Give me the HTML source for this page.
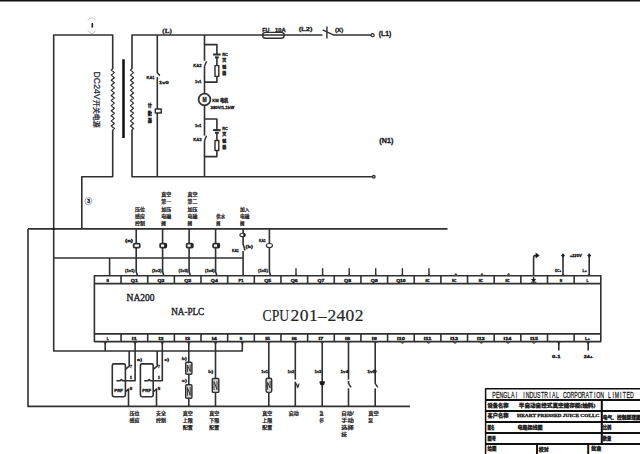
<!DOCTYPE html>
<html lang="zh"><head><meta charset="utf-8"><title>PLC wiring diagram</title>
<style>
html,body{margin:0;padding:0;background:#fff;}
body{width:640px;height:454px;overflow:hidden;}
svg{display:block;}
polyline,path,rect{stroke-linejoin:round;}
text{fill:#222;}
.s{font-family:"Liberation Sans","Noto Sans CJK SC",sans-serif;}
.r{font-family:"Liberation Serif","Noto Serif CJK SC",serif;}
.m{font-family:"DejaVu Sans Mono","Liberation Mono","Noto Sans CJK SC",monospace;}
.b{font-weight:bold;stroke:#1a1a1a;stroke-width:0.3px;}
.c{font-weight:500;stroke:#222;stroke-width:0.24px;}
</style></head><body>
<svg width="640" height="454" viewBox="0 0 640 454">
<rect x="0" y="0" width="640" height="454" fill="#fff"/>
<rect x="0" y="0" width="640" height="1.5" fill="#111"/>
<polyline points="112.7,69 112.7,35 53.7,35 53.7,351 242.3,351 242.3,342" fill="none" stroke="#303030" stroke-width="1.6" />
<polyline points="112.7,129.8 112.7,176.8 81.8,176.8 81.8,228.9" fill="none" stroke="#303030" stroke-width="1.6" />
<polyline points="112.8,68.8 111.2,70.07 114.4,72.61 111.2,75.15 114.4,77.7 111.2,80.24 114.4,82.78 111.2,85.32 114.4,87.86 111.2,90.4 114.4,92.95 111.2,95.49 114.4,98.03 111.2,100.57 114.4,103.11 111.2,105.65 114.4,108.2 111.2,110.74 114.4,113.28 111.2,115.82 114.4,118.36 111.2,120.9 114.4,123.45 111.2,125.99 114.4,128.53 112.8,129.8" fill="none" stroke="#303030" stroke-width="1.2" />
<polyline points="132,68.8 130.4,70.07 133.6,72.61 130.4,75.15 133.6,77.7 130.4,80.24 133.6,82.78 130.4,85.32 133.6,87.86 130.4,90.4 133.6,92.95 130.4,95.49 133.6,98.03 130.4,100.57 133.6,103.11 130.4,105.65 133.6,108.2 130.4,110.74 133.6,113.28 130.4,115.82 133.6,118.36 130.4,120.9 133.6,123.45 130.4,125.99 133.6,128.53 132,129.8" fill="none" stroke="#303030" stroke-width="1.2" />
<line x1="123.5" y1="59.3" x2="123.5" y2="138" stroke="#111" stroke-width="2.56" />
<polyline points="132,69 132,35 372,35" fill="none" stroke="#303030" stroke-width="1.6" />
<polyline points="132,129.8 132,176.8 373,176.8" fill="none" stroke="#303030" stroke-width="1.6" />
<circle cx="372.6" cy="35.2" r="1.5" fill="#fff" stroke="#303030" stroke-width="1.28"/>
<circle cx="373.8" cy="176.8" r="1.3" fill="#fff" stroke="#303030" stroke-width="1.28"/>
<g transform="translate(94.3,71.6) rotate(90)">
<text class="s" x="0" y="0" font-size="8.7" fill="#2a2f45" textLength="28" lengthAdjust="spacingAndGlyphs" stroke="#2a2f45" stroke-width="0.25">DC24V</text>
<text class="s" x="28.4" y="0" font-size="7.2" fill="#2a2f45" textLength="27.6" lengthAdjust="spacingAndGlyphs" stroke="#2a2f45" stroke-width="0.25">开关电源</text>
</g>
<path d="M87.8 20.5 Q91.8 14.5 95.6 20.5 M87.8 30.5 Q91.8 36.5 95.6 30.5" fill="none" stroke="#a9aec2" stroke-width="0.8"/>
<line x1="92.3" y1="23" x2="92.3" y2="27.6" stroke="#222" stroke-width="1.6" />
<text class="r b" x="162.3" y="33.4" font-size="6.5" textLength="9.5" lengthAdjust="spacingAndGlyphs">(L)</text>
<polyline points="157.3,35 157.3,72.8 159.8,75.6" fill="none" stroke="#303030" stroke-width="1.6" />
<line x1="157.3" y1="77" x2="157.3" y2="176.8" stroke="#303030" stroke-width="1.6" />
<rect x="155.3" y="109" width="6" height="4" rx="0" fill="#fff" stroke="#303030" stroke-width="1.44"/>
<text class="s b" x="146.6" y="79.2" font-size="3.7" textLength="8" lengthAdjust="spacingAndGlyphs">KA1</text>
<text class="s b" x="159" y="84.1" font-size="3.7" textLength="9.6" lengthAdjust="spacingAndGlyphs">1v0</text>
<text class="s b" x="147.7" y="107.3" font-size="4.2">计</text>
<text class="s b" x="147.7" y="114.5" font-size="4.2">数</text>
<text class="s b" x="147.7" y="121.7" font-size="4.2">器</text>
<line x1="204.5" y1="35" x2="204.5" y2="60.8" stroke="#303030" stroke-width="1.6" />
<line x1="204.5" y1="66.4" x2="204.5" y2="93.5" stroke="#303030" stroke-width="1.6" />
<line x1="204.5" y1="105.6" x2="204.5" y2="135.6" stroke="#303030" stroke-width="1.6" />
<line x1="204.5" y1="140.6" x2="204.5" y2="176.8" stroke="#303030" stroke-width="1.6" />
<line x1="204.5" y1="66.4" x2="206.5" y2="61.2" stroke="#303030" stroke-width="1.44" />
<line x1="204.5" y1="140.6" x2="206.5" y2="135.8" stroke="#303030" stroke-width="1.44" />
<polyline points="204.5,44.6 216.9,44.6 216.9,54.5" fill="none" stroke="#303030" stroke-width="1.6" />
<line x1="213.1" y1="54.5" x2="220.6" y2="54.5" stroke="#303030" stroke-width="2.08" />
<line x1="215" y1="57.4" x2="218.8" y2="57.4" stroke="#303030" stroke-width="2.08" />
<line x1="216.9" y1="57.4" x2="216.9" y2="65.6" stroke="#303030" stroke-width="1.6" />
<rect x="215.0" y="65.6" width="3.8" height="10.8" rx="0" fill="#fff" stroke="#303030" stroke-width="1.44"/>
<polyline points="216.9,76.4 216.9,82.1 204.5,82.1" fill="none" stroke="#303030" stroke-width="1.6" />
<polyline points="204.5,119 216.9,119 216.9,130.1" fill="none" stroke="#303030" stroke-width="1.6" />
<line x1="213.1" y1="130.1" x2="220.6" y2="130.1" stroke="#303030" stroke-width="2.08" />
<line x1="215" y1="132.8" x2="218.8" y2="132.8" stroke="#303030" stroke-width="2.08" />
<line x1="216.9" y1="132.8" x2="216.9" y2="140.5" stroke="#303030" stroke-width="1.6" />
<rect x="215.0" y="140.5" width="3.8" height="10" rx="0" fill="#fff" stroke="#303030" stroke-width="1.44"/>
<polyline points="216.9,150.5 216.9,156.6 204.5,156.6" fill="none" stroke="#303030" stroke-width="1.6" />
<circle cx="204.5" cy="99.5" r="5.9" fill="#fff" stroke="#303030" stroke-width="1.76"/>
<text class="s b" x="204.5" y="101.8" font-size="6.4" text-anchor="middle" fill="#111" textLength="4.2" lengthAdjust="spacingAndGlyphs">M</text>
<text class="s b" x="212.3" y="101.9" font-size="4.4" textLength="16" lengthAdjust="spacingAndGlyphs">KM 电机</text>
<text class="s b" x="210.6" y="109.2" font-size="3.8" textLength="23.6" lengthAdjust="spacingAndGlyphs">380V/1.1kW</text>
<text class="s b" x="193.3" y="66.9" font-size="3.7" textLength="8.2" lengthAdjust="spacingAndGlyphs">KA2</text>
<text class="s b" x="195" y="82.9" font-size="3.7" textLength="6.5" lengthAdjust="spacingAndGlyphs">1v1</text>
<text class="s b" x="195" y="127" font-size="3.7" textLength="6.5" lengthAdjust="spacingAndGlyphs">1v1</text>
<text class="s b" x="193.3" y="141.3" font-size="3.7" textLength="8.2" lengthAdjust="spacingAndGlyphs">KA3</text>
<text class="s b" x="222.2" y="55.5" font-size="4" fill="#333">RC</text>
<text class="s b" x="222.2" y="129.6" font-size="4" fill="#333">RC</text>
<text class="s b" x="222.2" y="62.1" font-size="4" fill="#333">灭</text>
<text class="s b" x="222.2" y="136.2" font-size="4" fill="#333">灭</text>
<text class="s b" x="222.2" y="68.7" font-size="4" fill="#333">弧</text>
<text class="s b" x="222.2" y="142.79999999999998" font-size="4" fill="#333">弧</text>
<text class="s b" x="222.2" y="75.3" font-size="4" fill="#333">器</text>
<text class="s b" x="222.2" y="149.39999999999998" font-size="4" fill="#333">器</text>
<rect x="262.6" y="32.4" width="21.6" height="5.8" rx="2.9" fill="none" stroke="#303030" stroke-width="1.44"/>
<text class="s b" x="262.2" y="31.6" font-size="5.2" textLength="7.2" lengthAdjust="spacingAndGlyphs">FU</text>
<text class="s b" x="275" y="31.6" font-size="5.2" textLength="10.6" lengthAdjust="spacingAndGlyphs">10A</text>
<text class="s b" x="298.8" y="30.8" font-size="6.2" textLength="13.6" lengthAdjust="spacingAndGlyphs">(L2)</text>
<rect x="322.4" y="33" width="11" height="4" fill="#fff"/>
<line x1="322.6" y1="29.8" x2="333.8" y2="35.2" stroke="#303030" stroke-width="1.44" />
<line x1="326.9" y1="26.6" x2="326.9" y2="38.4" stroke="#303030" stroke-width="1.44" />
<text class="s b" x="335" y="32.4" font-size="5.4" textLength="8.2" lengthAdjust="spacingAndGlyphs">(X)</text>
<text class="s b" x="378.8" y="36.3" font-size="6.4" textLength="12.4" lengthAdjust="spacingAndGlyphs">(L1)</text>
<text class="s b" x="379.3" y="143" font-size="6.4" textLength="14" lengthAdjust="spacingAndGlyphs">(N1)</text>
<line x1="28" y1="228.9" x2="447.5" y2="228.9" stroke="#303030" stroke-width="1.6" />
<polyline points="28,228.9 28,406.4 410,406.4" fill="none" stroke="#303030" stroke-width="1.6" />
<circle cx="53.7" cy="228.9" r="1.1" fill="#111" stroke="#303030" stroke-width="0.8"/>
<line x1="53.7" y1="258" x2="243.1" y2="258" stroke="#303030" stroke-width="1.6" />
<line x1="109.6" y1="258" x2="109.6" y2="275.8" stroke="#303030" stroke-width="1.6" />
<circle cx="88.4" cy="201.1" r="3.5" fill="none" stroke="#9aa2bd" stroke-width="0.96"/>
<text class="s b" x="88.6" y="203" font-size="5" text-anchor="middle" fill="#2b3050">3</text>
<polyline points="136.2,228.9 136.2,271.5 137.39999999999998,275.8" fill="none" stroke="#303030" stroke-width="1.6" />
<rect x="133.6" y="243.7" width="6.2" height="3.9" rx="1.2" fill="#fff" stroke="#303030" stroke-width="1.76"/>
<polyline points="162.6,228.9 162.6,271.5 163.79999999999998,275.8" fill="none" stroke="#303030" stroke-width="1.6" />
<rect x="160.1" y="243.7" width="6.2" height="3.9" rx="1" fill="#fff" stroke="#303030" stroke-width="1.76"/>
<rect x="164.1" y="243.7" width="2.2" height="3.9" fill="#222"/>
<polyline points="189.1,228.9 189.1,271.5 190.29999999999998,275.8" fill="none" stroke="#303030" stroke-width="1.6" />
<rect x="186.6" y="243.7" width="6.2" height="3.9" rx="1" fill="#fff" stroke="#303030" stroke-width="1.76"/>
<rect x="190.6" y="243.7" width="2.2" height="3.9" fill="#222"/>
<polyline points="215.6,228.9 215.6,271.5 216.79999999999998,275.8" fill="none" stroke="#303030" stroke-width="1.6" />
<rect x="213.1" y="243.7" width="6.2" height="3.9" rx="1" fill="#fff" stroke="#303030" stroke-width="1.76"/>
<rect x="217.1" y="243.7" width="2.2" height="3.9" fill="#222"/>
<polyline points="243.1,228.9 243.1,244 245.0,250.4" fill="none" stroke="#303030" stroke-width="1.6" />
<line x1="243.1" y1="251" x2="243.1" y2="275.8" stroke="#303030" stroke-width="1.6" />
<ellipse cx="242.6" cy="234.9" rx="2.7" ry="1.7" fill="#fff" stroke="#303030" stroke-width="1.1"/>
<rect x="243.29999999999998" y="233.6" width="1.8" height="2.6" fill="#222"/>
<polyline points="269.4,228.9 269.4,271.5 270.4,275.8" fill="none" stroke="#303030" stroke-width="1.6" />
<ellipse cx="269.4" cy="245.5" rx="3.1" ry="2" fill="#fff" stroke="#303030" stroke-width="1.1"/>
<text class="s c" x="135" y="210.60000000000002" font-size="4.7" fill="#2a2a3a" textLength="10" lengthAdjust="spacingAndGlyphs">压位</text>
<text class="s c" x="135" y="217.95000000000002" font-size="4.7" fill="#2a2a3a" textLength="10" lengthAdjust="spacingAndGlyphs">感应</text>
<text class="s c" x="135" y="225.3" font-size="4.7" fill="#2a2a3a" textLength="10" lengthAdjust="spacingAndGlyphs">控制</text>
<text class="s c" x="161.3" y="195.9" font-size="4.7" fill="#2a2a3a" textLength="10" lengthAdjust="spacingAndGlyphs">真空</text>
<text class="s c" x="161.3" y="203.25" font-size="4.7" fill="#2a2a3a" textLength="10" lengthAdjust="spacingAndGlyphs">第一</text>
<text class="s c" x="161.3" y="210.60000000000002" font-size="4.7" fill="#2a2a3a" textLength="10" lengthAdjust="spacingAndGlyphs">加压</text>
<text class="s c" x="161.3" y="217.95000000000002" font-size="4.7" fill="#2a2a3a" textLength="10" lengthAdjust="spacingAndGlyphs">电磁</text>
<text class="s c" x="161.3" y="225.3" font-size="4.7" fill="#2a2a3a" textLength="4.6" lengthAdjust="spacingAndGlyphs">阀</text>
<text class="s c" x="187.6" y="195.9" font-size="4.7" fill="#2a2a3a" textLength="10" lengthAdjust="spacingAndGlyphs">真空</text>
<text class="s c" x="187.6" y="203.25" font-size="4.7" fill="#2a2a3a" textLength="10" lengthAdjust="spacingAndGlyphs">第二</text>
<text class="s c" x="187.6" y="210.60000000000002" font-size="4.7" fill="#2a2a3a" textLength="10" lengthAdjust="spacingAndGlyphs">加压</text>
<text class="s c" x="187.6" y="217.95000000000002" font-size="4.7" fill="#2a2a3a" textLength="10" lengthAdjust="spacingAndGlyphs">电磁</text>
<text class="s c" x="187.6" y="225.3" font-size="4.7" fill="#2a2a3a" textLength="4.6" lengthAdjust="spacingAndGlyphs">阀</text>
<text class="s c" x="216.3" y="217.95000000000002" font-size="4.7" fill="#2a2a3a" textLength="8.8" lengthAdjust="spacingAndGlyphs">供水</text>
<text class="s c" x="216.3" y="225.3" font-size="4.7" fill="#2a2a3a" textLength="4.0" lengthAdjust="spacingAndGlyphs">阀</text>
<text class="s c" x="240" y="210.60000000000002" font-size="4.7" fill="#2a2a3a" textLength="9.5" lengthAdjust="spacingAndGlyphs">加入</text>
<text class="s c" x="240" y="217.95000000000002" font-size="4.7" fill="#2a2a3a" textLength="9.5" lengthAdjust="spacingAndGlyphs">电磁</text>
<text class="s c" x="240" y="225.3" font-size="4.7" fill="#2a2a3a" textLength="4.4" lengthAdjust="spacingAndGlyphs">阀</text>
<text class="s b" x="125" y="242.2" font-size="3.8" textLength="8" lengthAdjust="spacingAndGlyphs">(a)</text>
<text class="s b" x="259" y="242.2" font-size="3.7" textLength="6.6" lengthAdjust="spacingAndGlyphs">KA1</text>
<text class="s b" x="231.9" y="251.8" font-size="3.7" textLength="6.9" lengthAdjust="spacingAndGlyphs">KA1</text>
<text class="s b" x="245.6" y="248.2" font-size="4.2" textLength="7.5" lengthAdjust="spacingAndGlyphs">(b)</text>
<text class="s b" x="125" y="272.4" font-size="3.8" textLength="9.7" lengthAdjust="spacingAndGlyphs">(1v1)</text>
<text class="s b" x="151.9" y="272.4" font-size="3.8" textLength="9.7" lengthAdjust="spacingAndGlyphs">(1v2)</text>
<text class="s b" x="178.5" y="272.4" font-size="3.8" textLength="9.7" lengthAdjust="spacingAndGlyphs">(1v3)</text>
<text class="s b" x="205" y="272.4" font-size="3.8" textLength="9.7" lengthAdjust="spacingAndGlyphs">(1v4)</text>
<text class="s b" x="258.1" y="272.4" font-size="3.8" textLength="9.7" lengthAdjust="spacingAndGlyphs">(1v5)</text>
<rect x="94.4" y="275.8" width="506.4" height="65.80000000000001" rx="0" fill="#fff" stroke="#303030" stroke-width="1.6"/>
<line x1="94.4" y1="283.6" x2="600.8" y2="283.6" stroke="#303030" stroke-width="1.6" />
<line x1="94.4" y1="333.9" x2="600.8" y2="333.9" stroke="#303030" stroke-width="1.6" />
<text class="s b" x="107.72631578947369" y="281.9" font-size="3.3" text-anchor="middle">N</text>
<text class="s b" x="107.72631578947369" y="340.1" font-size="3.3" text-anchor="middle">L</text>
<line x1="121.05263157894737" y1="275.8" x2="121.05263157894737" y2="283.6" stroke="#303030" stroke-width="1.6" />
<line x1="121.05263157894737" y1="333.9" x2="121.05263157894737" y2="341.6" stroke="#303030" stroke-width="1.6" />
<text class="s b" x="134.37894736842105" y="281.9" font-size="3.3" text-anchor="middle" textLength="7" lengthAdjust="spacingAndGlyphs">Q1</text>
<text class="s b" x="134.37894736842105" y="340.1" font-size="3.3" text-anchor="middle" textLength="5" lengthAdjust="spacingAndGlyphs">I1</text>
<line x1="147.70526315789473" y1="275.8" x2="147.70526315789473" y2="283.6" stroke="#303030" stroke-width="1.6" />
<line x1="147.70526315789473" y1="333.9" x2="147.70526315789473" y2="341.6" stroke="#303030" stroke-width="1.6" />
<text class="s b" x="161.03157894736842" y="281.9" font-size="3.3" text-anchor="middle" textLength="7" lengthAdjust="spacingAndGlyphs">Q2</text>
<text class="s b" x="161.03157894736842" y="340.1" font-size="3.3" text-anchor="middle" textLength="5" lengthAdjust="spacingAndGlyphs">I2</text>
<line x1="174.35789473684213" y1="275.8" x2="174.35789473684213" y2="283.6" stroke="#303030" stroke-width="1.6" />
<line x1="174.35789473684213" y1="333.9" x2="174.35789473684213" y2="341.6" stroke="#303030" stroke-width="1.6" />
<text class="s b" x="187.6842105263158" y="281.9" font-size="3.3" text-anchor="middle" textLength="7" lengthAdjust="spacingAndGlyphs">Q3</text>
<text class="s b" x="187.6842105263158" y="340.1" font-size="3.3" text-anchor="middle" textLength="5" lengthAdjust="spacingAndGlyphs">I3</text>
<line x1="201.0105263157895" y1="275.8" x2="201.0105263157895" y2="283.6" stroke="#303030" stroke-width="1.6" />
<line x1="201.0105263157895" y1="333.9" x2="201.0105263157895" y2="341.6" stroke="#303030" stroke-width="1.6" />
<text class="s b" x="214.33684210526317" y="281.9" font-size="3.3" text-anchor="middle" textLength="7" lengthAdjust="spacingAndGlyphs">Q4</text>
<text class="s b" x="214.33684210526317" y="340.1" font-size="3.3" text-anchor="middle" textLength="5" lengthAdjust="spacingAndGlyphs">I4</text>
<line x1="227.66315789473686" y1="275.8" x2="227.66315789473686" y2="283.6" stroke="#303030" stroke-width="1.6" />
<line x1="227.66315789473686" y1="333.9" x2="227.66315789473686" y2="341.6" stroke="#303030" stroke-width="1.6" />
<text class="s b" x="240.98947368421054" y="281.9" font-size="3.3" text-anchor="middle" textLength="5" lengthAdjust="spacingAndGlyphs">P1</text>
<text class="s b" x="240.98947368421054" y="340.1" font-size="3.3" text-anchor="middle">N</text>
<line x1="254.31578947368422" y1="275.8" x2="254.31578947368422" y2="283.6" stroke="#303030" stroke-width="1.6" />
<line x1="254.31578947368422" y1="333.9" x2="254.31578947368422" y2="341.6" stroke="#303030" stroke-width="1.6" />
<text class="s b" x="267.64210526315793" y="281.9" font-size="3.3" text-anchor="middle" textLength="7" lengthAdjust="spacingAndGlyphs">Q5</text>
<text class="s b" x="267.64210526315793" y="340.1" font-size="3.3" text-anchor="middle" textLength="5" lengthAdjust="spacingAndGlyphs">I5</text>
<line x1="280.9684210526316" y1="275.8" x2="280.9684210526316" y2="283.6" stroke="#303030" stroke-width="1.6" />
<line x1="280.9684210526316" y1="333.9" x2="280.9684210526316" y2="341.6" stroke="#303030" stroke-width="1.6" />
<text class="s b" x="294.2947368421053" y="281.9" font-size="3.3" text-anchor="middle" textLength="7" lengthAdjust="spacingAndGlyphs">Q6</text>
<text class="s b" x="294.2947368421053" y="340.1" font-size="3.3" text-anchor="middle" textLength="5" lengthAdjust="spacingAndGlyphs">I6</text>
<line x1="307.62105263157895" y1="275.8" x2="307.62105263157895" y2="283.6" stroke="#303030" stroke-width="1.6" />
<line x1="307.62105263157895" y1="333.9" x2="307.62105263157895" y2="341.6" stroke="#303030" stroke-width="1.6" />
<text class="s b" x="320.94736842105266" y="281.9" font-size="3.3" text-anchor="middle" textLength="7" lengthAdjust="spacingAndGlyphs">Q7</text>
<text class="s b" x="320.94736842105266" y="340.1" font-size="3.3" text-anchor="middle" textLength="5" lengthAdjust="spacingAndGlyphs">I7</text>
<line x1="334.2736842105263" y1="275.8" x2="334.2736842105263" y2="283.6" stroke="#303030" stroke-width="1.6" />
<line x1="334.2736842105263" y1="333.9" x2="334.2736842105263" y2="341.6" stroke="#303030" stroke-width="1.6" />
<text class="s b" x="347.6" y="281.9" font-size="3.3" text-anchor="middle" textLength="7" lengthAdjust="spacingAndGlyphs">Q8</text>
<text class="s b" x="347.6" y="340.1" font-size="3.3" text-anchor="middle" textLength="5" lengthAdjust="spacingAndGlyphs">I8</text>
<line x1="360.92631578947373" y1="275.8" x2="360.92631578947373" y2="283.6" stroke="#303030" stroke-width="1.6" />
<line x1="360.92631578947373" y1="333.9" x2="360.92631578947373" y2="341.6" stroke="#303030" stroke-width="1.6" />
<text class="s b" x="374.25263157894744" y="281.9" font-size="3.3" text-anchor="middle" textLength="7" lengthAdjust="spacingAndGlyphs">Q9</text>
<text class="s b" x="374.25263157894744" y="340.1" font-size="3.3" text-anchor="middle" textLength="5" lengthAdjust="spacingAndGlyphs">I9</text>
<line x1="387.57894736842104" y1="275.8" x2="387.57894736842104" y2="283.6" stroke="#303030" stroke-width="1.6" />
<line x1="387.57894736842104" y1="333.9" x2="387.57894736842104" y2="341.6" stroke="#303030" stroke-width="1.6" />
<text class="s b" x="400.90526315789475" y="281.9" font-size="3.3" text-anchor="middle" textLength="9.5" lengthAdjust="spacingAndGlyphs">Q10</text>
<text class="s b" x="400.90526315789475" y="340.1" font-size="3.3" text-anchor="middle" textLength="7.8" lengthAdjust="spacingAndGlyphs">I10</text>
<line x1="414.23157894736846" y1="275.8" x2="414.23157894736846" y2="283.6" stroke="#303030" stroke-width="1.6" />
<line x1="414.23157894736846" y1="333.9" x2="414.23157894736846" y2="341.6" stroke="#303030" stroke-width="1.6" />
<text class="s b" x="427.5578947368422" y="281.9" font-size="3.3" text-anchor="middle" textLength="4.2" lengthAdjust="spacingAndGlyphs">NC</text>
<text class="s b" x="427.5578947368422" y="340.1" font-size="3.3" text-anchor="middle" textLength="7.8" lengthAdjust="spacingAndGlyphs">I11</text>
<line x1="440.88421052631577" y1="275.8" x2="440.88421052631577" y2="283.6" stroke="#303030" stroke-width="1.6" />
<line x1="440.88421052631577" y1="333.9" x2="440.88421052631577" y2="341.6" stroke="#303030" stroke-width="1.6" />
<text class="s b" x="454.2105263157895" y="281.9" font-size="3.3" text-anchor="middle" textLength="4.2" lengthAdjust="spacingAndGlyphs">NC</text>
<text class="s b" x="454.2105263157895" y="340.1" font-size="3.3" text-anchor="middle" textLength="7.8" lengthAdjust="spacingAndGlyphs">I12</text>
<line x1="467.5368421052632" y1="275.8" x2="467.5368421052632" y2="283.6" stroke="#303030" stroke-width="1.6" />
<line x1="467.5368421052632" y1="333.9" x2="467.5368421052632" y2="341.6" stroke="#303030" stroke-width="1.6" />
<text class="s b" x="480.8631578947369" y="281.9" font-size="3.3" text-anchor="middle" textLength="4.2" lengthAdjust="spacingAndGlyphs">NC</text>
<text class="s b" x="480.8631578947369" y="340.1" font-size="3.3" text-anchor="middle" textLength="7.8" lengthAdjust="spacingAndGlyphs">I13</text>
<line x1="494.1894736842105" y1="275.8" x2="494.1894736842105" y2="283.6" stroke="#303030" stroke-width="1.6" />
<line x1="494.1894736842105" y1="333.9" x2="494.1894736842105" y2="341.6" stroke="#303030" stroke-width="1.6" />
<text class="s b" x="507.5157894736842" y="281.9" font-size="3.3" text-anchor="middle" textLength="4.2" lengthAdjust="spacingAndGlyphs">NC</text>
<text class="s b" x="507.5157894736842" y="340.1" font-size="3.3" text-anchor="middle" textLength="7.8" lengthAdjust="spacingAndGlyphs">I14</text>
<line x1="520.8421052631579" y1="275.8" x2="520.8421052631579" y2="283.6" stroke="#303030" stroke-width="1.6" />
<line x1="520.8421052631579" y1="333.9" x2="520.8421052631579" y2="341.6" stroke="#303030" stroke-width="1.6" />
<text class="s b" x="534.1684210526316" y="340.1" font-size="3.3" text-anchor="middle" textLength="7.8" lengthAdjust="spacingAndGlyphs">I15</text>
<line x1="547.4947368421052" y1="275.8" x2="547.4947368421052" y2="283.6" stroke="#303030" stroke-width="1.6" />
<line x1="547.4947368421052" y1="333.9" x2="547.4947368421052" y2="341.6" stroke="#303030" stroke-width="1.6" />
<text class="s b" x="560.8210526315789" y="281.9" font-size="3.3" text-anchor="middle">N</text>
<line x1="574.1473684210526" y1="275.8" x2="574.1473684210526" y2="283.6" stroke="#303030" stroke-width="1.6" />
<line x1="574.1473684210526" y1="333.9" x2="574.1473684210526" y2="341.6" stroke="#303030" stroke-width="1.6" />
<text class="s b" x="587.4736842105264" y="281.9" font-size="3.3" text-anchor="middle">L</text>
<text class="s b" x="587.4736842105264" y="340.1" font-size="3.3" text-anchor="middle" textLength="5" lengthAdjust="spacingAndGlyphs">L+</text>
<text class="r" x="126.6" y="301.3" font-size="10.4" fill="#2b2b33" textLength="28" lengthAdjust="spacingAndGlyphs" stroke="#2b2b33" stroke-width="0.45">NA200</text>
<text class="r" x="171.2" y="314.6" font-size="10.4" fill="#2b2b33" textLength="33" lengthAdjust="spacingAndGlyphs" stroke="#2b2b33" stroke-width="0.45">NA-PLC</text>
<text class="r" y="320.8" font-size="17.5" fill="#30303a" stroke="#30303a" stroke-width="0.2"><tspan x="262.6" textLength="26.6" lengthAdjust="spacingAndGlyphs">CPU</tspan><tspan x="290.6 299.8 309">201</tspan><tspan x="318" textLength="8.6" lengthAdjust="spacingAndGlyphs">–</tspan><tspan x="327.4 336.4 345.6 354.8">2402</tspan></text>
<line x1="296" y1="268.2" x2="296" y2="275.8" stroke="#303030" stroke-width="1.44" />
<path d="M294.4 275.8 L296 273.4 L297.6 275.8 Z" fill="#333"/>
<line x1="322.6" y1="268.2" x2="322.6" y2="275.8" stroke="#303030" stroke-width="1.44" />
<path d="M321.0 275.8 L322.6 273.4 L324.20000000000005 275.8 Z" fill="#333"/>
<line x1="349.2" y1="268.2" x2="349.2" y2="275.8" stroke="#303030" stroke-width="1.44" />
<path d="M347.59999999999997 275.8 L349.2 273.4 L350.8 275.8 Z" fill="#333"/>
<line x1="375.7" y1="268.2" x2="375.7" y2="275.8" stroke="#303030" stroke-width="1.44" />
<path d="M374.09999999999997 275.8 L375.7 273.4 L377.3 275.8 Z" fill="#333"/>
<line x1="402.4" y1="268.2" x2="402.4" y2="275.8" stroke="#303030" stroke-width="1.44" />
<path d="M400.79999999999995 275.8 L402.4 273.4 L404.0 275.8 Z" fill="#333"/>
<line x1="429" y1="268.2" x2="429" y2="275.8" stroke="#303030" stroke-width="1.44" />
<path d="M427.4 275.8 L429 273.4 L430.6 275.8 Z" fill="#333"/>
<polyline points="454.2,275.8 455.8,273.6 457.40000000000003,275.8" fill="none" stroke="#555" stroke-width="1.28" />
<polyline points="480.4,275.8 482,273.6 483.6,275.8" fill="none" stroke="#555" stroke-width="1.28" />
<polyline points="507.0,275.8 508.6,273.6 510.20000000000005,275.8" fill="none" stroke="#555" stroke-width="1.28" />
<path d="M533.6 275.8 V257.2 Q533.6 255.6 535.2 255.6 H537" fill="none" stroke="#303030" stroke-width="1.6"/>
<path d="M535.6 252.6 L539.6 255.5 L535.6 258.4 Z" fill="#1a1a1a"/>
<line x1="533.6" y1="277" x2="533.6" y2="281.3" stroke="#303030" stroke-width="1.44" />
<path d="M531 279 L533.6 282.6 L536.2 279 Z" fill="#1a1a1a"/>
<line x1="531" y1="282.2" x2="536.4" y2="282.2" stroke="#303030" stroke-width="1.12" />
<line x1="563" y1="257" x2="563" y2="275.8" stroke="#303030" stroke-width="1.6" />
<path d="M563 253.2 l2 2.3 l-2 2.3 l-2 -2.3 Z" fill="#222"/>
<path d="M561 275.8 L563 273.6 L565 275.8 Z" fill="#333"/>
<line x1="589.2" y1="257" x2="589.2" y2="275.8" stroke="#303030" stroke-width="1.6" />
<path d="M589.2 253.2 l2 2.3 l-2 2.3 l-2 -2.3 Z" fill="#222"/>
<path d="M587.2 275.8 L589.2 273.6 L591.2 275.8 Z" fill="#333"/>
<text class="s b" x="569.7" y="257" font-size="3.8" textLength="12" lengthAdjust="spacingAndGlyphs" font-style="italic">+220V</text>
<text class="s b" x="555.1" y="272.3" font-size="3.6" textLength="6.2" lengthAdjust="spacingAndGlyphs">DC+</text>
<text class="s b" x="582.6" y="272.3" font-size="3.6" textLength="4.4" lengthAdjust="spacingAndGlyphs">L+</text>
<line x1="558.8" y1="341.6" x2="558.8" y2="350.6" stroke="#303030" stroke-width="1.6" />
<path d="M557.0999999999999 341.6 L558.8 344.20000000000005 L560.5 341.6" fill="none" stroke="#303030" stroke-width="0.8"/>
<line x1="588.2" y1="341.6" x2="588.2" y2="350.6" stroke="#303030" stroke-width="1.6" />
<path d="M586.5 341.6 L588.2 344.20000000000005 L589.9000000000001 341.6" fill="none" stroke="#303030" stroke-width="0.8"/>
<text class="s b" x="552" y="357.8" font-size="3.6" textLength="8.5" lengthAdjust="spacingAndGlyphs">0-1</text>
<text class="s b" x="583.8" y="357.8" font-size="3.6" textLength="9" lengthAdjust="spacingAndGlyphs">24+</text>
<path d="M400.9 341.6 a1.6 1.8 0 0 0 3.2 0" fill="#555" stroke="#333" stroke-width="0.6"/>
<path d="M426.9 341.6 a1.6 1.8 0 0 0 3.2 0" fill="#555" stroke="#333" stroke-width="0.6"/>
<path d="M453.4 341.6 a1.6 1.8 0 0 0 3.2 0" fill="#555" stroke="#333" stroke-width="0.6"/>
<path d="M479.79999999999995 341.6 a1.6 1.8 0 0 0 3.2 0" fill="#555" stroke="#333" stroke-width="0.6"/>
<path d="M506.4 341.6 a1.6 1.8 0 0 0 3.2 0" fill="#555" stroke="#333" stroke-width="0.6"/>
<path d="M532.1999999999999 341.6 a1.6 1.8 0 0 0 3.2 0" fill="#555" stroke="#333" stroke-width="0.6"/>
<line x1="105.2" y1="341.6" x2="105.2" y2="351" stroke="#303030" stroke-width="1.6" />
<path d="M103.5 341.6 L105.2 344.20000000000005 L106.9 341.6" fill="none" stroke="#303030" stroke-width="0.8"/>
<rect x="112.3" y="363.9" width="13.1" height="32.8" rx="1.6" fill="#fff" stroke="#303030" stroke-width="1.6"/>
<polyline points="129.2,351 129.2,366.2 125.39999999999999,369.3" fill="none" stroke="#303030" stroke-width="1.6" />
<polyline points="135.1,341.6 135.1,380.8 122.89999999999999,380.8 121.39999999999999,379.6 119.89999999999999,380.8 116.39999999999999,380.8" fill="none" stroke="#303030" stroke-width="1.6" />
<path d="M133.4 341.6 L135.1 344.20000000000005 L136.79999999999998 341.6" fill="none" stroke="#303030" stroke-width="0.8"/>
<polyline points="125.39999999999999,391.8 128.5,389 128.5,406.4" fill="none" stroke="#303030" stroke-width="1.6" />
<text class="s b" x="114.2" y="392.2" font-size="3.6" textLength="8.9" lengthAdjust="spacingAndGlyphs">PRF</text>
<text class="s b" x="137.1" y="360.7" font-size="4" textLength="4.9" lengthAdjust="spacingAndGlyphs">a)</text>
<text class="s b" x="130.0" y="367.6" font-size="3.3">7</text>
<text class="s b" x="130.0" y="378.6" font-size="3.3">5</text>
<text class="s b" x="129.79999999999998" y="390.2" font-size="3.3">N</text>
<rect x="140.4" y="363.9" width="12.8" height="32.8" rx="1.6" fill="#fff" stroke="#303030" stroke-width="1.6"/>
<polyline points="157.2,351 157.2,366.2 153.20000000000002,369.3" fill="none" stroke="#303030" stroke-width="1.6" />
<polyline points="162.3,341.6 162.3,380.8 150.70000000000002,380.8 149.20000000000002,379.6 147.70000000000002,380.8 144.20000000000002,380.8" fill="none" stroke="#303030" stroke-width="1.6" />
<path d="M160.60000000000002 341.6 L162.3 344.20000000000005 L164.0 341.6" fill="none" stroke="#303030" stroke-width="0.8"/>
<polyline points="153.20000000000002,391.8 156.5,389 156.5,406.4" fill="none" stroke="#303030" stroke-width="1.6" />
<text class="s b" x="142.3" y="392.2" font-size="3.6" textLength="8.9" lengthAdjust="spacingAndGlyphs">PRF</text>
<text class="s b" x="164.3" y="360.7" font-size="4" textLength="4.9" lengthAdjust="spacingAndGlyphs">c)</text>
<text class="s b" x="158.0" y="367.6" font-size="3.3">7</text>
<text class="s b" x="158.0" y="378.6" font-size="3.3">5</text>
<text class="s b" x="157.79999999999998" y="390.2" font-size="3.3">N</text>
<line x1="188.8" y1="341.6" x2="188.8" y2="406.4" stroke="#303030" stroke-width="1.6" />
<path d="M187.10000000000002 341.6 L188.8 344.20000000000005 L190.5 341.6" fill="none" stroke="#303030" stroke-width="0.8"/>
<rect x="185.70000000000002" y="362.3" width="6.2" height="11.9" rx="1" fill="#d8d8d8" stroke="#303030" stroke-width="1.44"/>
<rect x="185.70000000000002" y="384.7" width="6.2" height="13.5" rx="1" fill="#d8d8d8" stroke="#303030" stroke-width="1.44"/>
<polyline points="187.4,372 187.4,365 190.20000000000002,371.5 190.20000000000002,364.6" fill="none" stroke="#303030" stroke-width="0.96" />
<polyline points="187.4,395.8 187.4,387.4 190.20000000000002,395.4 190.20000000000002,387" fill="none" stroke="#303030" stroke-width="0.96" />
<text class="s b" x="181.8" y="359.6" font-size="4" textLength="5" lengthAdjust="spacingAndGlyphs">b)</text>
<text class="s b" x="181.8" y="381.8" font-size="4" textLength="5" lengthAdjust="spacingAndGlyphs">c)</text>
<line x1="215.5" y1="341.6" x2="215.5" y2="406.4" stroke="#303030" stroke-width="1.6" />
<path d="M213.8 341.6 L215.5 344.20000000000005 L217.2 341.6" fill="none" stroke="#303030" stroke-width="0.8"/>
<rect x="212.3" y="378.5" width="6.5" height="13.9" rx="1" fill="#d8d8d8" stroke="#303030" stroke-width="1.44"/>
<polyline points="214.0,390 214.0,381.4 217.0,389.6 217.0,381" fill="none" stroke="#303030" stroke-width="0.96" />
<text class="s b" x="208.2" y="373" font-size="4" textLength="5" lengthAdjust="spacingAndGlyphs">b)</text>
<path d="M240.60000000000002 341.6 L242.3 344.20000000000005 L244.0 341.6" fill="none" stroke="#303030" stroke-width="0.8"/>
<line x1="268.8" y1="341.6" x2="268.8" y2="406.4" stroke="#303030" stroke-width="1.6" />
<path d="M267.3 341.6 a1.5 1.7 0 0 0 3 0" fill="#444" stroke="#333" stroke-width="0.5"/>
<line x1="295.3" y1="341.6" x2="295.3" y2="406.4" stroke="#303030" stroke-width="1.6" />
<path d="M293.8 341.6 a1.5 1.7 0 0 0 3 0" fill="#444" stroke="#333" stroke-width="0.5"/>
<line x1="322.2" y1="341.6" x2="322.2" y2="406.4" stroke="#303030" stroke-width="1.6" />
<path d="M320.7 341.6 a1.5 1.7 0 0 0 3 0" fill="#444" stroke="#333" stroke-width="0.5"/>
<line x1="348.5" y1="341.6" x2="348.5" y2="406.4" stroke="#303030" stroke-width="1.6" />
<path d="M347.0 341.6 a1.5 1.7 0 0 0 3 0" fill="#444" stroke="#333" stroke-width="0.5"/>
<line x1="375.2" y1="341.6" x2="375.2" y2="406.4" stroke="#303030" stroke-width="1.6" />
<path d="M373.7 341.6 a1.5 1.7 0 0 0 3 0" fill="#444" stroke="#333" stroke-width="0.5"/>
<rect x="266.1" y="378.2" width="5.6" height="14.2" rx="1.6" fill="#d8d8d8" stroke="#303030" stroke-width="1.44"/>
<polyline points="267.6,389.6 267.6,382.4 270.1,387.8 270.1,381" fill="none" stroke="#303030" stroke-width="0.96" />
<rect x="294.1" y="379.5" width="2.4" height="2.2" fill="#fff"/>
<polyline points="296.2,383.4 297.7,387.6 299.1,383.6" fill="none" stroke="#303030" stroke-width="1.28" />
<rect x="347.3" y="383.8" width="2.4" height="4.6" fill="#fff"/>
<line x1="348.5" y1="383.4" x2="351.1" y2="387.4" stroke="#303030" stroke-width="1.44" />
<rect x="374.0" y="383.8" width="2.4" height="4.6" fill="#fff"/>
<line x1="375.2" y1="383.4" x2="377.8" y2="387.4" stroke="#303030" stroke-width="1.44" />
<rect x="347.3" y="379.6" width="2.4" height="1.3" fill="#fff"/>
<path d="M319.5 381.2 h5.4 q0 4.2 -2.7 4.2 q-2.7 0 -2.7 -4.2 Z" fill="#1a1a1a"/>
<text class="s b" x="261.2" y="372.6" font-size="3.8" textLength="6.8" lengthAdjust="spacingAndGlyphs">1v1</text>
<text class="s b" x="287.5" y="372.6" font-size="3.8" textLength="6.9" lengthAdjust="spacingAndGlyphs">1v2</text>
<text class="s b" x="314.4" y="372.6" font-size="3.8" textLength="6.9" lengthAdjust="spacingAndGlyphs">1v3</text>
<text class="s b" x="340.6" y="372.6" font-size="3.8" textLength="7.6" lengthAdjust="spacingAndGlyphs">1v4</text>
<text class="s b" x="367.2" y="372.6" font-size="3.8" textLength="8.4" lengthAdjust="spacingAndGlyphs">1v5</text>
<circle cx="375.4" cy="371.4" r="1.3" fill="#222"/>
<text class="s c" x="129.6" y="414.6" font-size="4.7" fill="#2a2a3a" textLength="10" lengthAdjust="spacingAndGlyphs">压位</text>
<text class="s c" x="129.6" y="421.8" font-size="4.7" fill="#2a2a3a" textLength="10" lengthAdjust="spacingAndGlyphs">感应</text>
<text class="s c" x="156" y="414.6" font-size="4.7" fill="#2a2a3a" textLength="10" lengthAdjust="spacingAndGlyphs">安全</text>
<text class="s c" x="156" y="421.8" font-size="4.7" fill="#2a2a3a" textLength="10" lengthAdjust="spacingAndGlyphs">控制</text>
<text class="s c" x="182.7" y="414.6" font-size="4.7" fill="#2a2a3a" textLength="10" lengthAdjust="spacingAndGlyphs">真空</text>
<text class="s c" x="182.7" y="421.8" font-size="4.7" fill="#2a2a3a" textLength="10" lengthAdjust="spacingAndGlyphs">上限</text>
<text class="s c" x="182.7" y="429.0" font-size="4.7" fill="#2a2a3a" textLength="10" lengthAdjust="spacingAndGlyphs">配置</text>
<text class="s c" x="209.3" y="414.6" font-size="4.7" fill="#2a2a3a" textLength="10" lengthAdjust="spacingAndGlyphs">真空</text>
<text class="s c" x="209.3" y="421.8" font-size="4.7" fill="#2a2a3a" textLength="10" lengthAdjust="spacingAndGlyphs">下限</text>
<text class="s c" x="209.3" y="429.0" font-size="4.7" fill="#2a2a3a" textLength="10" lengthAdjust="spacingAndGlyphs">配置</text>
<text class="s c" x="262.3" y="414.6" font-size="4.7" fill="#2a2a3a" textLength="10" lengthAdjust="spacingAndGlyphs">真空</text>
<text class="s c" x="262.3" y="421.8" font-size="4.7" fill="#2a2a3a" textLength="10" lengthAdjust="spacingAndGlyphs">上限</text>
<text class="s c" x="262.3" y="429.0" font-size="4.7" fill="#2a2a3a" textLength="10" lengthAdjust="spacingAndGlyphs">配置</text>
<text class="s c" x="288.8" y="414.6" font-size="4.7" fill="#2a2a3a" textLength="10" lengthAdjust="spacingAndGlyphs">启动</text>
<text class="s c" x="319.5" y="414.6" font-size="4.7" fill="#2a2a3a" textLength="4.1" lengthAdjust="spacingAndGlyphs">急</text>
<text class="s c" x="319.5" y="421.8" font-size="4.7" fill="#2a2a3a" textLength="4.1" lengthAdjust="spacingAndGlyphs">停</text>
<text class="s c" x="341.3" y="414.6" font-size="4.7" fill="#2a2a3a" textLength="12.5" lengthAdjust="spacingAndGlyphs">自动/</text>
<text class="s c" x="341.3" y="421.8" font-size="4.7" fill="#2a2a3a" textLength="12.5" lengthAdjust="spacingAndGlyphs">手动</text>
<text class="s c" x="341.3" y="429.0" font-size="4.7" fill="#2a2a3a" textLength="12.5" lengthAdjust="spacingAndGlyphs">选择</text>
<text class="s c" x="341.3" y="436.20000000000005" font-size="4.7" fill="#2a2a3a" textLength="5.8" lengthAdjust="spacingAndGlyphs">按</text>
<text class="s c" x="368.3" y="414.6" font-size="4.7" fill="#2a2a3a" textLength="10.5" lengthAdjust="spacingAndGlyphs">真空</text>
<text class="s c" x="368.3" y="421.8" font-size="4.7" fill="#2a2a3a" textLength="4.8" lengthAdjust="spacingAndGlyphs">泵</text>
<path d="M485.6 454 V388.8 H640" fill="none" stroke="#111" stroke-width="1.5"/>
<line x1="485.6" y1="400" x2="640" y2="400" stroke="#111" stroke-width="1.92" />
<line x1="485.6" y1="411" x2="640" y2="411" stroke="#111" stroke-width="1.92" />
<line x1="485.6" y1="422" x2="640" y2="422" stroke="#111" stroke-width="1.92" />
<line x1="485.6" y1="433" x2="640" y2="433" stroke="#111" stroke-width="1.92" />
<line x1="485.6" y1="444" x2="640" y2="444" stroke="#111" stroke-width="1.92" />
<line x1="601.8" y1="400" x2="601.8" y2="444" stroke="#111" stroke-width="2.08" />
<line x1="537" y1="444" x2="537" y2="454" stroke="#111" stroke-width="1.92" />
<line x1="588.2" y1="444" x2="588.2" y2="454" stroke="#111" stroke-width="1.92" />
<text class="s" transform="translate(492.2,397.5) scale(0.64,1)" x="2.91 8.73 14.56 20.38 26.2 32.02 37.85 43.67 49.49 55.31 61.13 66.96 72.78 78.6 84.42 90.25 96.07 101.89 107.71 113.54 119.36 125.18 131.0 136.83 142.65 148.47 154.29 160.12 165.94 171.76 177.58 183.4 189.23 195.05 200.87 206.69 212.52 218.34" y="0" font-size="8.2" text-anchor="middle" fill="#1a1a1a" stroke="#1a1a1a" stroke-width="0.25">PENGLAI INDUSTRIAL CORPORATION LIMITED</text>
<text class="s b" x="487.6" y="407.2" font-size="4.4" textLength="21" lengthAdjust="spacingAndGlyphs">设备名称</text>
<text class="s b" x="518.8" y="407.2" font-size="4.4" textLength="76.5" lengthAdjust="spacingAndGlyphs">半自动自控式真空储存柜(抽料)</text>
<text class="s b" x="487.6" y="417" font-size="4.4" textLength="21" lengthAdjust="spacingAndGlyphs">客户名称</text>
<text class="r b" x="517" y="416.6" font-size="4.4" textLength="82.5" lengthAdjust="spacingAndGlyphs">HEART PRESSED JUICE COLLC</text>
<text class="s b" x="487.6" y="429.2" font-size="4.4" textLength="7" lengthAdjust="spacingAndGlyphs">图名</text>
<text class="s b" x="517.5" y="429.2" font-size="4.4" textLength="25" lengthAdjust="spacingAndGlyphs">电路接线图</text>
<text class="s b" x="487.6" y="440.4" font-size="4.4" textLength="8.5" lengthAdjust="spacingAndGlyphs">图号</text>
<text class="s b" x="487.6" y="450.4" font-size="4.4" textLength="8.8" lengthAdjust="spacingAndGlyphs">绘图</text>
<text class="s b" x="538.8" y="451" font-size="4.4" textLength="10" lengthAdjust="spacingAndGlyphs">校对</text>
<text class="s b" x="591.2" y="450.2" font-size="4.4" textLength="10" lengthAdjust="spacingAndGlyphs">批准</text>
<text class="s b" x="602.8" y="418.6" font-size="4.2" textLength="38" lengthAdjust="spacingAndGlyphs">电气、控制原理图</text>
<text class="s b" x="602.8" y="429.2" font-size="4.4" textLength="8.5" lengthAdjust="spacingAndGlyphs">比例</text>
<text class="s b" x="602.8" y="440.2" font-size="4.4" textLength="8.5" lengthAdjust="spacingAndGlyphs">数量</text>
</svg>
</body></html>
